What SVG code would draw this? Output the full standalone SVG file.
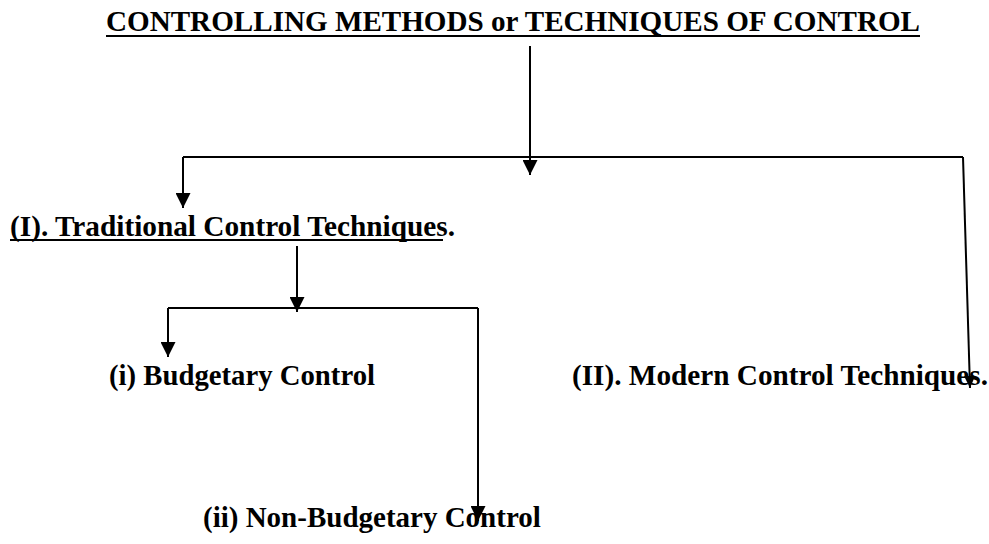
<svg xmlns="http://www.w3.org/2000/svg" width="989" height="544" viewBox="0 0 989 544">
<style>
.t{font-family:"Liberation Serif","Times New Roman",serif;font-weight:bold;font-size:29px;fill:#000}
.c{stroke:#000;stroke-width:2;fill:none}
.u{stroke:#000;stroke-width:2}
</style>
<defs>
<marker id="ah" markerUnits="userSpaceOnUse" markerWidth="15" markerHeight="15" refX="15" refY="7.5" orient="auto" viewBox="0 0 15 15">
<path d="M0,0 L15,7.5 L0,15 z" fill="#000"/>
</marker>
<marker id="ahs" markerUnits="userSpaceOnUse" markerWidth="12" markerHeight="11" refX="12" refY="5.5" orient="auto" viewBox="0 0 12 11">
<path d="M0,0 L12,5.5 L0,11 z" fill="#000"/>
</marker>
</defs>
<g id="title">
<text class="t" x="106" y="31" textLength="814" lengthAdjust="spacingAndGlyphs">CONTROLLING METHODS or TECHNIQUES OF CONTROL</text>
<line class="u" x1="106" y1="36" x2="920" y2="36"/>
</g>
<g id="traditional">
<text class="t" x="10" y="236" textLength="445" lengthAdjust="spacingAndGlyphs">(I). Traditional Control Techniques.</text>
<line class="u" x1="10" y1="240" x2="443" y2="240"/>
</g>
<g id="modern">
<text class="t" x="572" y="385" textLength="416" lengthAdjust="spacingAndGlyphs">(II). Modern Control Techniques.</text>
</g>
<g id="budgetary">
<text class="t" x="109" y="385" textLength="266" lengthAdjust="spacingAndGlyphs">(i) Budgetary Control</text>
</g>
<g id="nonbudgetary">
<text class="t" x="203" y="527">(ii) Non-Budgetary Control</text>
</g>
<g id="connectors">
<line class="c" x1="530" y1="46" x2="530" y2="175" marker-end="url(#ah)"/>
<polyline class="c" points="183,157 963,157"/>
<line class="c" x1="183" y1="157" x2="183" y2="208" marker-end="url(#ah)"/>
<line class="c" x1="963" y1="157" x2="970" y2="388" marker-end="url(#ahs)"/>
<line class="c" x1="297" y1="246" x2="297" y2="312" marker-end="url(#ah)"/>
<polyline class="c" points="168,308 478,308"/>
<line class="c" x1="168" y1="308" x2="168" y2="357" marker-end="url(#ah)"/>
<line class="c" x1="478" y1="308" x2="478" y2="521" marker-end="url(#ah)"/>
</g>
</svg>
